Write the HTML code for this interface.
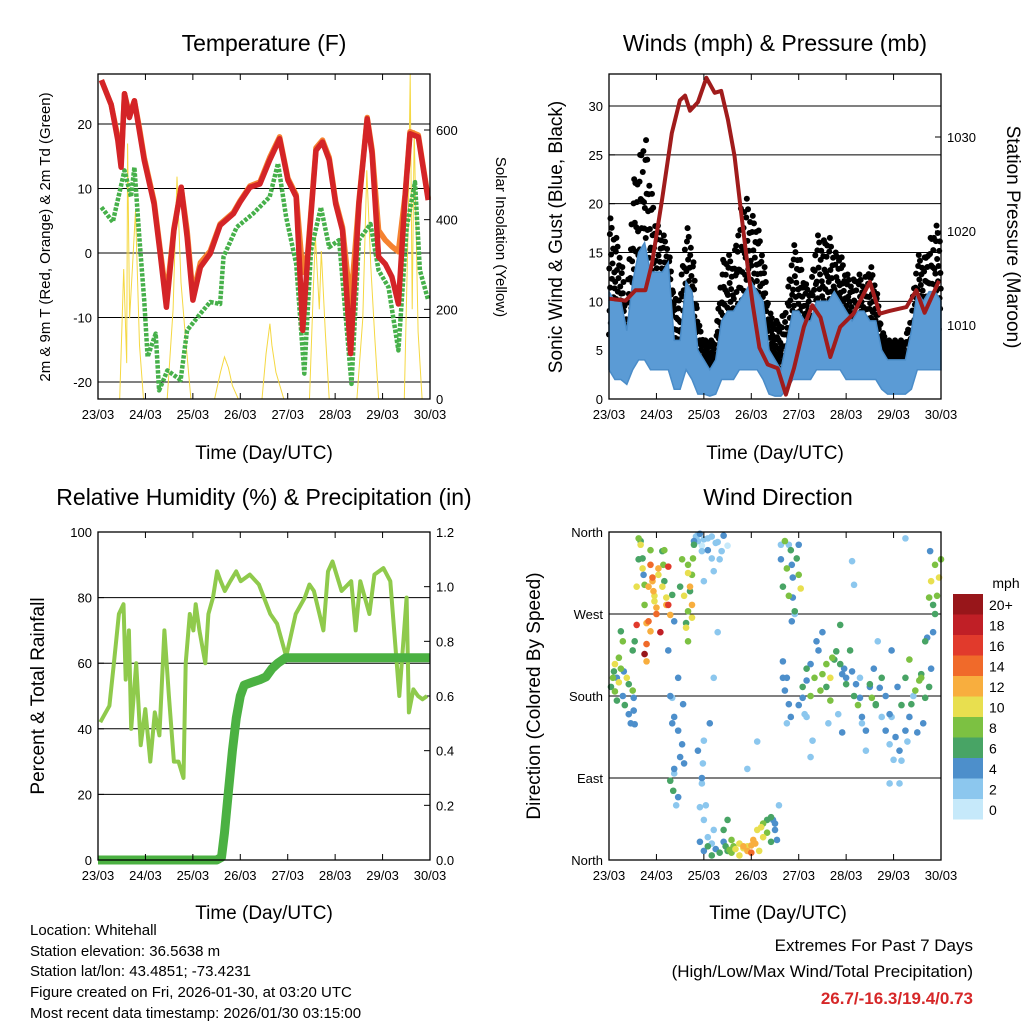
<!DOCTYPE html>
<html><head><meta charset="utf-8"><style>
html,body{margin:0;padding:0;background:#fff}
svg{display:block;font-family:"Liberation Sans",sans-serif}
</style></head><body>
<svg id="s" width="1024" height="1024" viewBox="0 0 1024 1024" xmlns="http://www.w3.org/2000/svg">
<rect width="1024" height="1024" fill="#fff"/>
<text x="264" y="51" font-size="23" text-anchor="middle">Temperature (F)</text>
<text x="775" y="51" font-size="23" text-anchor="middle">Winds (mph) &amp; Pressure (mb)</text>
<text x="264" y="505" font-size="23" text-anchor="middle">Relative Humidity (%) &amp; Precipitation (in)</text>
<text x="778" y="505" font-size="23" text-anchor="middle">Wind Direction</text>
<text x="264" y="459" font-size="19" text-anchor="middle">Time (Day/UTC)</text>
<text x="775" y="459" font-size="19" text-anchor="middle">Time (Day/UTC)</text>
<text x="264" y="919" font-size="19" text-anchor="middle">Time (Day/UTC)</text>
<text x="778" y="919" font-size="19" text-anchor="middle">Time (Day/UTC)</text>
<text transform="translate(50,237) rotate(-90)" font-size="15" text-anchor="middle">2m &amp; 9m T (Red, Orange) &amp; 2m Td (Green)</text>
<text transform="translate(496,237) rotate(90)" font-size="15" text-anchor="middle">Solar Insolation (Yellow)</text>
<text transform="translate(562,237) rotate(-90)" font-size="19" text-anchor="middle">Sonic Wind &amp; Gust (Blue, Black)</text>
<text transform="translate(1007,237) rotate(90)" font-size="19" text-anchor="middle">Station Pressure (Maroon)</text>
<text transform="translate(44,696) rotate(-90)" font-size="19" text-anchor="middle">Percent &amp; Total Rainfall</text>
<text transform="translate(540,696) rotate(-90)" font-size="19" text-anchor="middle">Direction (Colored By Speed)</text>
<g font-size="15">
<text x="30" y="935">Location: Whitehall</text>
<text x="30" y="956">Station elevation: 36.5638 m</text>
<text x="30" y="976">Station lat/lon: 43.4851; -73.4231</text>
<text x="30" y="997">Figure created on Fri, 2026-01-30, at 03:20 UTC</text>
<text x="30" y="1018">Most recent data timestamp: 2026/01/30 03:15:00</text>
</g>
<g font-size="17" text-anchor="end">
<text x="973" y="951">Extremes For Past 7 Days</text>
<text x="973" y="977">(High/Low/Max Wind/Total Precipitation)</text>
<text x="973" y="1004" fill="#d62728" font-weight="bold">26.7/-16.3/19.4/0.73</text>
</g>
<g id="g"></g>
</svg>
<script>
// ---- data ----
const dayLabels=["23/03","24/03","25/03","26/03","27/03","28/03","29/03","30/03"];
const tempTimes=[1.7,6.7,10,11.7,13.4,15.9,18.4,20.9,23.4,28.4,31.7,34.6,38.4,42.1,45.1,48,51.8,56.8,61.8,68.5,71.9,76.9,81.9,86.9,91.9,96.1,100.3,103.6,106.1,110.3,113.6,117,120.3,123.7,127.8,132,136.2,138.7,142,145.4,148.7,152,155.4,157.9,162.1,167.1];
const t2m=[26.8,23,17.5,13.3,24.7,21,23.6,19,14.4,7.6,-0.6,-8.4,3.5,10.2,2.5,-7.3,-2.2,-0.1,4.3,6.1,7.9,10.2,10.7,14.4,17.7,11.3,8.7,-12,-0.6,15.9,17.2,14.4,7.6,3.5,-15.6,7.6,20.8,15.4,-0.6,-1.7,-3.7,-7.9,8.7,18.5,18,8.2];
const t9m=[26.8,23,18,14,24.7,21.5,23.6,19.5,14.8,8,0,-7,3.8,10.2,3.5,-6.5,-1.5,0.3,4.5,6.3,8.1,10.4,11,14.8,18,11.6,9,-3,0,16.3,17.5,14.8,8,4,-8,8,21,16,3.5,2,1,0.2,9,18.8,18.3,8.5];
const tdTimes=[1.7,7.5,13.4,16.7,18.4,20.9,23.4,25.1,29.2,30.9,35.1,41.8,45.1,51.8,56.8,61.8,63.5,70.2,78.5,86.9,91.1,95.2,100.3,104.4,107.8,112.8,117,122,128.3,132,137.9,142,147,152,156.2,160.4,162.9,167.1];
const tdew=[7.1,4.8,12.8,8.7,13.3,2.5,-7.3,-16.1,-12.5,-21.3,-18.2,-19.7,-12,-9.4,-7.6,-7.9,-0.6,4,6.1,8.7,13.9,5.6,-1.7,-18.7,0.4,7.1,0.9,2,-20.3,2,4.5,-2.7,-5.3,-15.1,4,11,-2.7,-7.3];
const solarT=[11,13,14.5,15,16,17.5,19,21,23, 35,38,40,42,44,47, 59,62,64,66,68,71, 83,85,87,88,90,94, 107,109,110,112,113,115,117, 131,134,136,138,140,142, 155,157,158,159,160,162,164];
const solarV=[0,290,80,570,180,300,420,120,0, 0,200,496,260,150,0, 0,60,94,70,30,0, 0,100,168,120,60,0, 0,250,362,200,330,150,0, 0,180,510,300,140,0, 0,400,726,200,600,150,0];
const presT=[0,8.4,13.4,18.4,21.7,26.8,31.8,35.9,38.5,41,45,49.3,53.5,56.8,60.2,63.5,66.9,70.2,72.7,76.1,80.3,85.3,89.5,93.6,98.6,102.8,107,112,117,123.7,132,137,142,150.5,155.5,159.7,167];
const pres=[1012.8,1012.6,1013.7,1013.7,1016.5,1023.3,1030.4,1033.9,1034.4,1032.8,1033.7,1036.3,1034.7,1034.9,1031.8,1028,1021.9,1016.2,1012.2,1007.6,1005.8,1005.4,1002.6,1005.4,1009.8,1012.1,1010.8,1006.6,1009.8,1011.2,1014.6,1011.2,1011.5,1011.9,1013.7,1011.3,1014.7];
const gustHi=[19,17,15,9,22,24,28,22,18,17,16,10,11,18,16,8,6,6,6,14,15,14,19,21,19,18,15,9,8,8,10,16,15,12,11,17,16,17,15,15,13,12,13,12,14,12,7,6,6,6,6,9,15,14,16,18,17];
const windHi=[11,10,10,7,12,15,16,13,13,13,14,6,6,12,11,5,4,3,4,8,9,9,10,11,12,11,10,5,4,3,6,9,9,8,8,10,10,10,11,10,9,8,9,9,8,8,5,4,4,4,4,7,11,10,11,11,10];
const windLo=[3,2,2,1.5,3,4,4,3,3,3,3,1,1,3,2,0.5,0.5,0.3,0.5,2,2,2,3,3,3,3,2,0.5,0.3,0.3,1,2,2,2,2,3,3,3,3,3,2,2,2,2,2,2,1,0.5,0.5,0.5,0.5,1,3,3,3,3,3];
const rhT=[0.5,2.5,3.5,4.6,5.6,6.1,6.8,7.3,8.4,9.4,10.4,11.5,12.5,13.5,14.6,15.6,16.7,17.7,18.8,19.3,20.2,21,21.5,22.3,23.6,24.3,25.3,26.2,27,27.9,29.1,30.4,31.4,33.4,35.4,37.9,39.4,41.4,43.5,45.5,46.5,47.5,49.6,50.6,51.6,53.6,55.7,56.7,57.7,59.7,60.8,62.8,64.3,66.3,67.9,68.4,69.4,70.4,71.4,72.4];
const rhV=[42,47,60,75,78,55,70,40,60,35,46,30,45,38,70,50,30,30,25,60,75,70,78,70,60,75,80,88,85,82,85,88,85,87,84,75,72,62,75,80,84,82,70,88,91,82,85,70,85,75,87,89,85,50,80,45,52,50,49,50];
const rainT=[0,60,62.5,64,66,68,70,72,74,78,82,85,88,91,95,168];
const rainV=[0,0,0.01,0.1,0.25,0.4,0.52,0.6,0.64,0.65,0.66,0.67,0.7,0.72,0.74,0.74];
const wdT=[1,2,3,4,5,6,7,8,9,10,11,12,13,14,15,16,17,18,19,20,21,22,23,24,25,26,27,28,29,30,31,32,33,34,35,36,37,38,39,40,41,42,43,44,45,46,47,48,50,52,54,56,58,60,46,48,50,52,54,56,58,60,45,47,49,51,53,55,62,64,66,68,70,72,74,76,78,80,82,84,86,70,75,87,88,89,90,91,92,93,94,88,90,96,98,100,102,104,106,108,110,112,114,116,118,120,122,124,126,128,130,132,134,136,138,140,142,144,146,148,150,152,154,156,158,160,162,164,166,167,168,165,99,105,111,119,127,135,143,151,159,163];
const wdD=[190,200,185,175,195,210,180,170,200,160,150,230,240,300,330,350,320,280,260,300,340,310,290,270,320,250,300,340,280,230,180,150,100,60,200,300,330,290,260,315,300,280,350,355,350,358,345,352,340,355,348,330,356,345,20,10,15,5,12,8,20,10,120,90,60,150,200,250,8,12,5,15,10,8,18,10,25,30,20,40,60,100,130,330,300,350,320,290,340,310,270,200,150,170,190,210,180,200,230,250,190,175,220,160,140,200,230,180,170,150,120,190,210,240,200,180,160,110,190,170,200,220,180,140,200,240,190,250,290,310,330,270,160,240,150,210,200,170,230,130,150,210];
const wdS=[6,8,7,5,9,8,4,6,10,4,3,6,5,9,6,5,10,8,12,11,8,13,10,14,12,17,9,7,11,4,3,4,3,2,3,5,7,9,6,10,12,11,4,2,1,3,0,2,3,1,2,1,3,0,4,3,5,6,4,5,3,6,3,4,2,3,2,1,7,9,10,11,12,13,12,10,9,8,6,4,2,2,1,3,5,8,7,8,6,4,2,3,2,4,6,5,8,7,4,3,6,8,5,2,3,4,5,6,7,2,1,3,4,2,5,3,4,2,3,6,5,7,2,3,8,6,5,4,8,9,7,6,2,3,1,4,2,5,3,2,3,4];
const wdT2=[15,16,17,17.5,18,21,22,22.5,23,24,25,27,27.5,28,29,30,30,31,32,33,20,21,19,18,19,14,6,7,5,3,2.5,4,7.5,10,12,12.5,12.5,13,40,42,42.5,41,40,39,40,42,43,45,47,50,52,53,55,57,48,32,33,35,37,36,38,33,31,32.5,35,37.5,48,47.5,47,46,48,50,52,53,58,60,62,63,66,68,70,72,73,75,77,78,80,82,83,84,85,59,61,87,91,92.5,95,96,97,93,94,92.5,96,88,90,89,91,92,98,100,102,100,103,102,107,108,110,112,113,115,117,118,120,117,123,125,127,128,130,132,133,135,137,138,140,142,143,145,147,148,150,152,153,155,157,158,160,161,162,163,164,165,162.5,147,142,150,123,124];
const wdD2=[353,346,331,313,302,324,306,295,284,277,313,339,324,306,288,322,280,269,291,262,262,251,237,226,218,258,251,240,222,215,207,200,207,193,186,178,164,149,324,313,331,295,273,255,240,266,346,357,339,353,331,317,349,339,306,178,157,142,127,113,106,95,87,76,69,171,131,106,84,58,44,25,18,33,33,44,22,15,18,13,15,16,22,33,36,40,44,47,44,33,22,15,11,346,346,324,331,313,298,288,273,262,346,218,200,186,171,157,178,197,215,157,131,113,186,204,215,200,222,229,215,204,193,258,207,193,178,157,142,193,178,171,189,157,142,127,157,135,120,109,142,157,171,186,197,204,178,244,288,306,280,324,339,84,84,353,328,302];
const wdS2=[8,10,6,4,8,13,12,11,10,12,9,6,8,6,10,15,16,12,6,4,13,12,14,19,11,15,6,8,8,10,6,4,4,5,8,4,4,3,7,8,7,6,7,9,8,10,6,2,2,1,2,2,1,1,2,2,4,4,3,4,4,2,6,6,3,3,1,2,1,1,2,2,2,1,6,6,7,8,9,10,10,12,12,9,10,7,6,5,4,4,3,6,8,1,2,4,6,8,10,4,6,3,4,3,4,4,3,4,4,3,3,2,2,2,8,8,8,10,7,6,5,4,5,6,3,4,4,3,3,6,7,6,4,2,3,2,2,3,3,2,4,4,5,7,8,6,6,4,7,10,6,8,4,2,1,1,1,1];
const spdColors=["#c6e9fa","#8cc7ee","#4d8fcb","#48a465","#7cc142","#e8df4f","#f8ae3e","#f06a2a","#e13a2c","#c01f26","#98161a"];
const spdLabels=["0","2","4","6","8","10","12","14","16","18","20+"];

// ---- helpers ----
const NS="http://www.w3.org/2000/svg", G=document.getElementById('g');
function mk(tag,attrs,parent){const e=document.createElementNS(NS,tag);for(const k in attrs)e.setAttribute(k,attrs[k]);(parent||G).appendChild(e);return e;}
function lin(d0,d1,r0,r1){return v=>r0+(v-d0)/(d1-d0)*(r1-r0);}
function path(xs,ys,fx,fy){return xs.map((t,i)=>(i?'L':'M')+fx(t).toFixed(1)+','+fy(ys[i]).toFixed(1)).join('');}

function frame(x0,y0,x1,y1,name){
  const r=mk('rect',{x:x0,y:y0,width:x1-x0,height:y1-y0,fill:'none',stroke:'#000','stroke-width':1.3});
  
  
  const fx=lin(0,168,x0,x1);
  dayLabels.forEach((d,i)=>{
    const x=fx(i*24);
    const tk=mk('line',{x1:x,x2:x,y1:y1,y2:y1-6,stroke:'#000'});
    
    
    const tk2=mk('line',{x1:x,x2:x,y1:y0,y2:y0+6,stroke:'#000'});
    
    
    const t=mk('text',{x:x,y:y1+20,'font-size':13,'text-anchor':'middle'});
    t.textContent=d;
    
    
  });
  return fx;
}
function yaxis(vals,labels,fy,x0,x1,side,name,grid){
  vals.forEach((v,i)=>{
    const y=fy(v);
    if(grid){const gl=mk('line',{x1:x0,x2:x1,y1:y,y2:y,stroke:'#000','stroke-width':1});
      
      }
    const xe= side==='l'?x0:x1, dir= side==='l'?1:-1;
    const tk=mk('line',{x1:xe,x2:xe+dir*6,y1:y,y2:y,stroke:'#000'});
    
    
    const t=mk('text',{x: side==='l'?x0-6:x1+6,y:y+5,'font-size':13,'text-anchor':side==='l'?'end':'start'});
    t.textContent=labels[i];
    
    
  });
}

// ---- Panel 1: temperature ----
(function(){
  const x0=98,x1=430,y0=74,y1=399;
  const fy=lin(0,20,253,124), fs=lin(0,600,399,130);
  const fx=lin(0,168,x0,x1);
  yaxis([-20,-10,0,10,20],["-20","-10","0","10","20"],fy,x0,x1,'l','temp-y',true);
  yaxis([0,200,400,600],["0","200","400","600"],fs,x0,x1,'r','solar-y',false);
  const sol=mk('path',{d:path(solarT,solarV,fx,fs),fill:'none',stroke:'#f5d842','stroke-width':1});
  
  
  const td=mk('path',{d:path(tdTimes,tdew,fx,fy),fill:'none',stroke:'#46b04a','stroke-width':4.5,'stroke-dasharray':'3.5 1.5','stroke-linejoin':'round'});
  
  
  const o=mk('path',{d:path(tempTimes,t9m,fx,fy),fill:'none',stroke:'#f58230','stroke-width':5.5,'stroke-linejoin':'round'});
  
  
  const r=mk('path',{d:path(tempTimes,t2m,fx,fy),fill:'none',stroke:'#d42427','stroke-width':5.5,'stroke-linejoin':'round'});
  
  
  frame(x0,y0,x1,y1,'temp');
})();

// ---- Panel 2: winds & pressure ----
(function(){
  const x0=609,x1=941,y0=74,y1=399;
  const fy=lin(0,30,399,106), fp=lin(1010,1030,325,137);
  const fx=lin(0,168,x0,x1);
  yaxis([5,10,15,20,25,30],["5","10","15","20","25","30"],fy,x0,x1,'l','wind-y',true);
  yaxis([0],["0"],fy,x0,x1,'l','wind-y0',false);
  yaxis([1010,1020,1030],["1010","1020","1030"],fp,x0,x1,'r','pressure-y',false);
  const ts=windHi.map((v,i)=>i*3);
  const frac=[0,0.55,0.2,0.85,0.4,1,0.1,0.7,0.3,0.95,0.5,0.15,0.65,0.05,0.8,0.35,0.9,0.25,0.6,0.45];
  gustHi.forEach((g,i)=>{
    if(i===gustHi.length-1)return;
    for(let k=0;k<20;k++){
      const a=k/20;
      const top=g+(gustHi[i+1]-g)*a, bot=windHi[i]*0.6;
      const v=bot+(top-bot)*frac[k];
      const c=mk('circle',{cx:fx(ts[i]+a*3),cy:fy(v),r:3,fill:'#000'});
      
      
    }
  });
  const band=path(ts,windHi,fx,fy)+path(ts.slice().reverse(),windLo.slice().reverse(),fx,fy).replace('M','L')+'Z';
  const b=mk('path',{d:band,fill:'#5b9bd5',stroke:'#4a8cc8','stroke-width':1.5});
  
  
  const p=mk('path',{d:path(presT,pres,fx,fp),fill:'none',stroke:'#a01c1c','stroke-width':4,'stroke-linejoin':'round'});
  
  
  frame(x0,y0,x1,y1,'wind');
})();

// ---- Panel 3: RH & precip ----
(function(){
  const x0=98,x1=430,y0=532,y1=860;
  const fy=lin(0,100,860,532), fr=lin(0,1.2,860,532);
  const fx=lin(0,168,x0,x1);
  yaxis([20,40,60,80],["20","40","60","80"],fy,x0,x1,'l','rh-y',true);
  yaxis([0,100],["0","100"],fy,x0,x1,'l','rh-y-end',false);
  yaxis([0,0.2,0.4,0.6,0.8,1.0,1.2],["0.0","0.2","0.4","0.6","0.8","1.0","1.2"],fr,x0,x1,'r','rain-y',false);
  const rh=mk('path',{d:path(rhT.map(t=>t*2.3),rhV,fx,fy),fill:'none',stroke:'#8fca4c','stroke-width':4,'stroke-linejoin':'round'});
  
  
  const rn=mk('path',{d:path(rainT,rainV,fx,fr),fill:'none',stroke:'#4bb142','stroke-width':9,'stroke-linejoin':'round'});
  
  
  frame(x0,y0,x1,y1,'rh');
})();

// ---- Panel 4: wind direction ----
(function(){
  const x0=609,x1=941,y0=532,y1=860;
  const fy=lin(0,360,860,532), fx=lin(0,168,x0,x1);
  yaxis([90,180,270],["East","South","West"],fy,x0,x1,'l','dir-y',true);
  yaxis([0,360],["North","North"],fy,x0,x1,'l','dir-y-north',false);
  const pts=[];
  wdT.forEach((t,i)=>pts.push([t,wdD[i],wdS[i]]));
  wdT2.forEach((t,i)=>pts.push([t,wdD2[i],wdS2[i]]));
  pts.sort((a,b)=>a[2]-b[2]);
  pts.forEach(p=>{
    const ci=Math.min(10,Math.round(p[2]/2));
    const c=mk('circle',{cx:fx(p[0]),cy:fy(p[1]),r:3.3,fill:spdColors[ci]});
    
    
  });
  frame(x0,y0,x1,y1,'dir');
  const lt=mk('text',{x:1006,y:588,'font-size':14,'text-anchor':'middle'});
  lt.textContent='mph';
  
  
  spdColors.forEach((c,i)=>{
    const y=799-i*20.5;
    const r=mk('rect',{x:953,y:y,width:30,height:20.5,fill:c});
    
    
    const t=mk('text',{x:989,y:y+16,'font-size':14});
    t.textContent=spdLabels[i];
    
    
  });
})();
</script>
</body></html>
